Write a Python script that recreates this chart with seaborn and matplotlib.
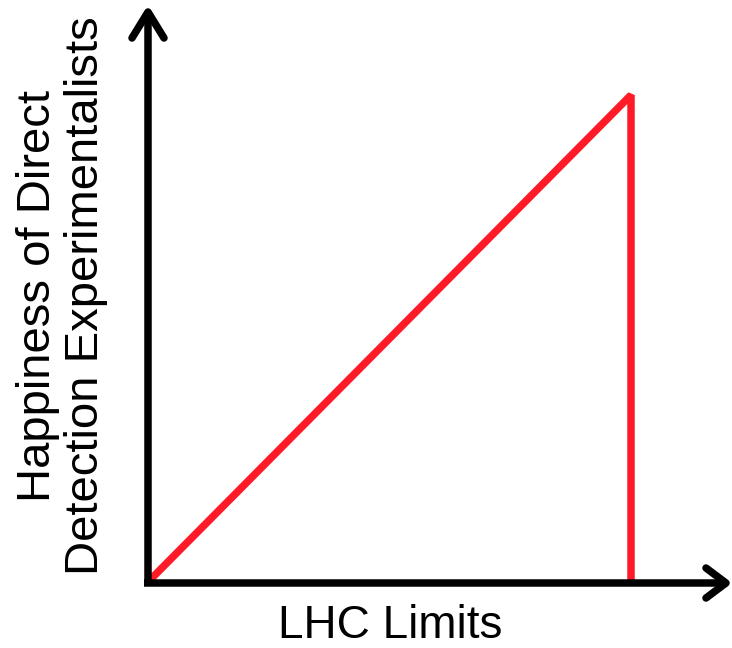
import matplotlib
matplotlib.use('Agg')

import matplotlib.pyplot as plt
import seaborn as sns

# data: happiness rises with LHC limits, then drops to zero
lhc_limits = [0.0, 1.0, 1.0]
happiness = [0.0, 1.0, 0.0]

x_label = "LHC Limits"
y_label = "Happiness of Direct\nDetection Experimentalists"

sns.set_style("white")
plt.rcParams['font.family'] = ['Liberation Sans', 'DejaVu Sans']

W, H = 732, 648
fig = plt.figure(figsize=(W / 100, H / 100), dpi=100)

# origin at (148, 582) px, (1, 1) at (631, 95) px
x0, y0, x1, y1 = 148, 582, 631, 95
ax = fig.add_axes([x0 / W, (H - y0) / H, (x1 - x0) / W, (y0 - y1) / H])

sns.lineplot(
    x=lhc_limits,
    y=happiness,
    sort=False,
    estimator=None,
    color='#ff1a28',
    linewidth=5.4,
    solid_capstyle='butt',
    solid_joinstyle='bevel',
    ax=ax
)
for ln in ax.get_lines():
    ln.set_clip_on(False)

ax.set_xlim(0, 1)
ax.set_ylim(0, 1)
ax.set_xticks([])
ax.set_yticks([])
for s in ax.spines.values():
    s.set_visible(False)


def px(x, y):
    return (x - x0) / (x1 - x0), (y0 - y) / (y0 - y1)


def seg(pts, cap='round'):
    xs, ys = zip(*[px(*p) for p in pts])
    ax.plot(xs, ys, color='black', linewidth=5.4, clip_on=False,
            solid_capstyle=cap, solid_joinstyle='round', zorder=3)


# axis shafts
seg([(148, 586), (148, 12)], cap='butt')
seg([(144, 583), (726, 583)], cap='butt')

# arrow heads
seg([(132, 38), (148, 12), (164, 38)])
seg([(706, 568), (726, 583), (706, 598)])

ax.set_xlabel("")
ax.set_ylabel("")

fig.text(390 / W, (H - 638) / H, x_label, fontsize=33, color='black',
         ha='center', va='baseline')
fig.text(62 / W, (H - 296) / H, y_label, fontsize=34, rotation=90,
         color='black', ha='center', va='center', multialignment='center',
         linespacing=1.1)

fig.savefig('out.png', dpi=100)
